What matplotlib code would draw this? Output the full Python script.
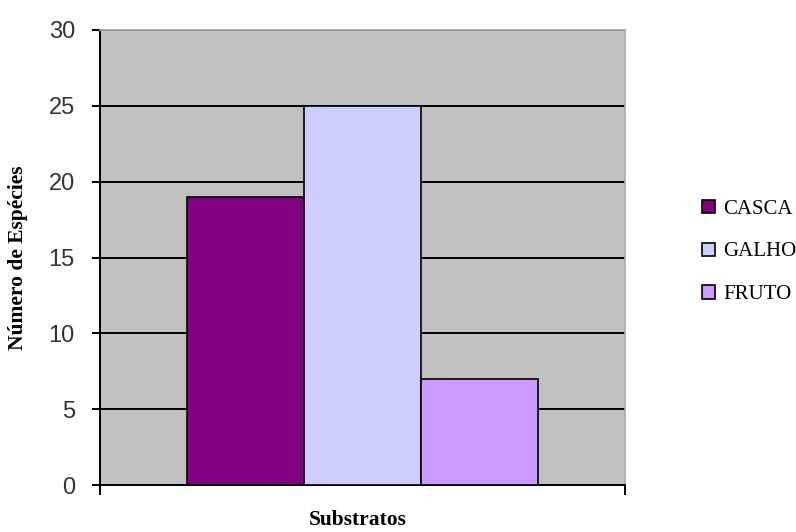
import matplotlib
matplotlib.use('Agg')
import matplotlib.pyplot as plt
import numpy as np

# data
substratos = ['CASCA', 'GALHO', 'FRUTO']
n_especies = [19, 25, 7]
cores = ['#800080', '#CCCCFF', '#CC99FF']
yticks = [0, 5, 10, 15, 20, 25, 30]

fig = plt.figure(figsize=(7.96, 5.32), dpi=100)
ax = fig.add_axes([100/796, 47/532, 525/796, 455/532])
ax.set_facecolor('#C0C0C0')

pos = np.arange(len(substratos)) - 1
bars = ax.bar(pos, n_especies, width=1.0, color=cores, edgecolor='black',
              linewidth=1.2, label=substratos, zorder=3)

ax.set_xlim(-2.245, 2.245)
ax.set_ylim(0, 30)
ax.set_yticks(yticks)
ax.yaxis.grid(True, color='black', linewidth=1.4, zorder=1)
ax.set_axisbelow(True)

ax.set_xticks([-2.245, 2.245])
ax.set_xticklabels(['', ''])
ax.tick_params(axis='x', direction='out', length=7, width=1.4)
ax.tick_params(axis='y', direction='out', length=6, width=1.4, pad=12)
for lab in ax.get_yticklabels():
    lab.set_fontfamily('Liberation Sans')
    lab.set_fontsize(17)
    lab.set_color('#333333')

for s in ['left', 'bottom']:
    ax.spines[s].set_color('black')
    ax.spines[s].set_linewidth(1.4)
for s in ['top', 'right']:
    ax.spines[s].set_color('#A8A8A8')
    ax.spines[s].set_linewidth(1.2)

ax.set_xlabel('Substratos', fontfamily='Liberation Serif', fontweight='bold',
              fontsize=15.5)
ax.xaxis.set_label_coords(0.49, -0.055)
ax.set_ylabel('Número de Espécies', fontfamily='Liberation Serif',
              fontweight='bold', fontsize=15.5)
ax.yaxis.set_label_coords(-0.137, 0.5)

leg = fig.legend(handles=list(bars), labels=substratos, loc='center left',
                 bbox_to_anchor=(692/796, 1 - 252/532), frameon=False,
                 prop={'family': 'Liberation Serif', 'size': 15},
                 borderpad=0, handlelength=0.6, handleheight=0.6,
                 handletextpad=0.4, labelspacing=1.15)

fig.savefig('out.png', dpi=100)
